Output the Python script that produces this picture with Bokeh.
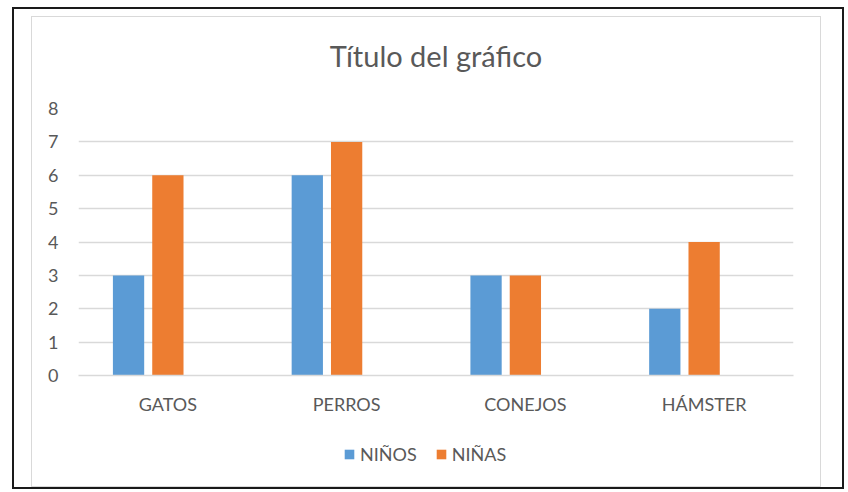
from bokeh.plotting import figure
from bokeh.models import ColumnDataSource, Legend, LegendItem, Title
from bokeh.layouts import column
from bokeh.transform import dodge
from bokeh.embed import file_html
from bokeh.resources import INLINE

categories = ["GATOS", "PERROS", "CONEJOS", "HÁMSTER"]
ninos = [3, 6, 3, 2]
ninas = [6, 7, 3, 4]
series_names = ["NIÑOS", "NIÑAS"]
title_text = "Título del gráfico"

FONT = "Lato"
TXT = "#595959"
BLUE = "#5B9BD5"
ORANGE = "#ED7D31"

src = ColumnDataSource(dict(cat=categories, ninos=ninos, ninas=ninas))

W = 788

def bare(fig):
    fig.axis.visible = False
    fig.grid.visible = False
    fig.outline_line_color = None
    return fig

# title strip
tf = bare(figure(x_range=(0, 1), y_range=(0, 1), width=W, height=72,
                 output_backend="svg", toolbar_location=None,
                 min_border_left=0, min_border_right=0, min_border_top=70, min_border_bottom=0))
tf.title = Title(text=title_text, align="center", text_font=FONT, text_font_size="29px",
                 text_color=TXT, text_font_style="normal", standoff=30)

# main chart
p = figure(x_range=categories, y_range=(0, 8), width=W, height=331,
           output_backend="svg", toolbar_location=None,
           min_border_left=46, min_border_right=27, min_border_top=19, min_border_bottom=45)

p.vbar(x=dodge("cat", -0.22, range=p.x_range), top="ninos", width=0.175,
       source=src, color=BLUE, line_color=None)
p.vbar(x=dodge("cat", 0.0, range=p.x_range), top="ninas", width=0.175,
       source=src, color=ORANGE, line_color=None)

p.outline_line_color = None
p.xgrid.grid_line_color = None
p.ygrid.grid_line_color = "#d9d9d9"
p.ygrid.grid_line_width = 1.5
p.yaxis.ticker = list(range(0, 9))
p.yaxis.axis_line_color = None
p.yaxis.major_tick_line_color = None
p.yaxis.minor_tick_line_color = None
p.yaxis.major_label_text_font = FONT
p.yaxis.major_label_text_font_size = "18px"
p.yaxis.major_label_text_color = TXT
p.yaxis.major_label_standoff = 14

p.xaxis.axis_line_color = "#d9d9d9"
p.xaxis.axis_line_width = 1.5
p.xaxis.major_tick_line_color = None
p.xaxis.minor_tick_line_color = None
p.xaxis.major_label_text_font = FONT
p.xaxis.major_label_text_font_size = "18px"
p.xaxis.major_label_text_color = TXT
p.xaxis.major_label_standoff = 11

# legend strip (bars kept out of view; only the legend shows)
lf = bare(figure(x_range=categories, y_range=(100, 101), width=W, height=66,
                 output_backend="svg", toolbar_location=None,
                 min_border_left=0, min_border_right=0, min_border_top=0, min_border_bottom=0))
l1 = lf.vbar(x="cat", top="ninos", width=0.1, source=src, color=BLUE, line_color=None)
l2 = lf.vbar(x="cat", top="ninas", width=0.1, source=src, color=ORANGE, line_color=None)
legend = Legend(items=[LegendItem(label=series_names[0], renderers=[l1]),
                       LegendItem(label=series_names[1], renderers=[l2])],
                orientation="horizontal", location=(265, 21),
                label_text_font=FONT, label_text_font_size="18px", label_text_color=TXT,
                glyph_width=12, glyph_height=12, spacing=18, label_standoff=5,
                border_line_color=None, background_fill_alpha=0, margin=0, padding=2)
lf.add_layout(legend)

inner = column(tf, p, lf, spacing=0, styles={"border": "1px solid #d9d9d9"})
outer = column(inner, spacing=0,
               styles={"border": "2px solid #1a1a1a", "padding": "7px 21px 0px 17px",
                       "margin": "7px 0px 0px 12px"})

open("out.html", "w").write(file_html(outer, INLINE))
